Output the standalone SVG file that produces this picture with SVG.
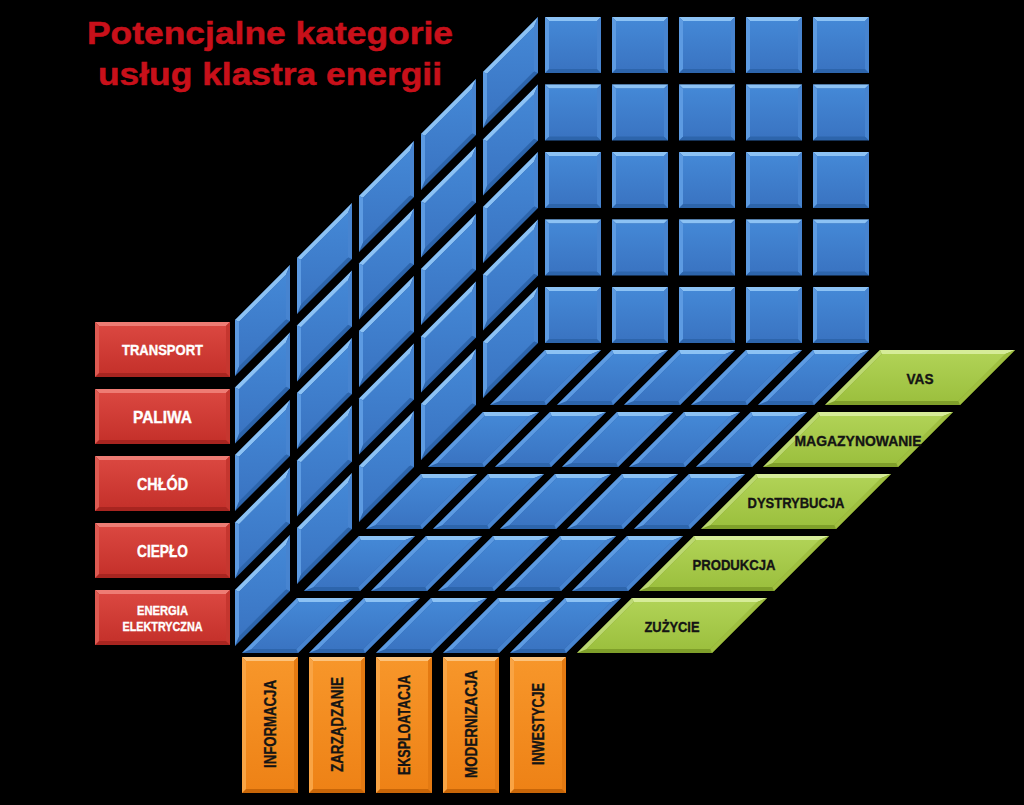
<svg xmlns="http://www.w3.org/2000/svg" xmlns:xlink="http://www.w3.org/1999/xlink" width="1024" height="805" viewBox="0 0 1024 805">
<style>
.t{font-family:"Liberation Sans",Arial,sans-serif;font-weight:bold;text-anchor:middle;stroke-width:0.35px}
.wt{fill:#ffffff;stroke:#ffffff}
.bk{fill:#141414;stroke:#141414}
.title{font-family:"Liberation Sans",Arial,sans-serif;font-weight:bold;fill:#c8101a;stroke:#c8101a;stroke-width:0.5px;font-size:31.5px;text-anchor:middle}
</style>
<defs>
<linearGradient id="gb" x1="0" y1="0" x2="0" y2="1"><stop offset="0" stop-color="#4488d6"/><stop offset="1" stop-color="#3a74c2"/></linearGradient>
<linearGradient id="gr" x1="0" y1="0" x2="0" y2="1"><stop offset="0" stop-color="#da4740"/><stop offset="1" stop-color="#c5312b"/></linearGradient>
<linearGradient id="go" x1="0" y1="0" x2="0" y2="1"><stop offset="0" stop-color="#f7962a"/><stop offset="1" stop-color="#ee8216"/></linearGradient>
<linearGradient id="gg" x1="0" y1="0" x2="0" y2="1"><stop offset="0" stop-color="#b0d256"/><stop offset="1" stop-color="#9cc03e"/></linearGradient>
<g id="sq">
<rect width="56" height="56" fill="#2d65ac"/>
<polygon points="0,0 56,0 52,4 4,4" fill="#8cc2f4"/>
<polygon points="0,0 4,4 4,52 0,56" fill="#5d9be2"/>
<polygon points="56,0 56,56 52,52 52,4" fill="#4784d0"/>
<rect x="4" y="4" width="48" height="48" fill="url(#gb)"/>
</g>
<g id="lw">
<polygon points="0,0 0,56 -55,111 -55,55" fill="#2d65ac"/>
<polygon points="0,0 -55,55 -51,56.66 -4,9.66" fill="#8cc2f4"/>
<polygon points="-55,55 -55,111 -51,101.34 -51,56.66" fill="#5d9be2"/>
<polygon points="0,0 -4,9.66 -4,54.34 0,56" fill="#4784d0"/>
<polygon points="-4,9.66 -4,54.34 -51,101.34 -51,56.66" fill="url(#gb)"/>
</g>
<g id="fl">
<polygon points="0,0 56,0 1,55 -55,55" fill="#2d65ac"/>
<polygon points="0,0 56,0 46.34,4 1.66,4" fill="#8cc2f4"/>
<polygon points="0,0 1.66,4 -45.34,51 -55,55" fill="#5d9be2"/>
<polygon points="56,0 46.34,4 -0.66,51 1,55" fill="#4784d0"/>
<polygon points="1.66,4 46.34,4 -0.66,51 -45.34,51" fill="url(#gb)"/>
</g>
<g id="gshape">
<polygon points="0,0 135,0 80,55 -55,55" fill="#7f9f2a"/>
<polygon points="0,0 135,0 125.34,4 1.66,4" fill="#d6ec98"/>
<polygon points="0,0 1.66,4 -45.34,51 -55,55" fill="#bcd872"/>
<polygon points="135,0 125.34,4 78.34,51 80,55" fill="#9fbf40"/>
<polygon points="1.66,4 125.34,4 78.34,51 -45.34,51" fill="url(#gg)"/>
</g>
<g id="rshape">
<rect width="135" height="55" fill="#a82520"/>
<polygon points="0,0 135,0 131,4 4,4" fill="#ee7c74"/>
<polygon points="0,0 4,4 4,51 0,55" fill="#de5a52"/>
<polygon points="135,0 135,55 131,51 131,4" fill="#c5362f"/>
<rect x="4" y="4" width="127" height="47" fill="url(#gr)"/>
</g>
<g id="oshape">
<rect width="56" height="136" fill="#c86608"/>
<polygon points="0,0 56,0 52,4 4,4" fill="#fcc27a"/>
<polygon points="0,0 4,4 4,132 0,136" fill="#f9a444"/>
<polygon points="56,0 56,136 52,132 52,4" fill="#e47a12"/>
<rect x="4" y="4" width="48" height="128" fill="url(#go)"/>
</g>
</defs>
<rect width="1024" height="805" fill="#000000"/>
<g id="title">
<text class="title" x="270" y="43.5" textLength="366" lengthAdjust="spacingAndGlyphs">Potencjalne kategorie</text>
<text class="title" x="270" y="85" textLength="344" lengthAdjust="spacingAndGlyphs">usług klastra energii</text>
</g>
<g id="back-wall">
<use href="#sq" x="545" y="17"/><use href="#sq" x="612" y="17"/><use href="#sq" x="679" y="17"/><use href="#sq" x="746" y="17"/><use href="#sq" x="813" y="17"/>
<use href="#sq" x="545" y="84.5"/><use href="#sq" x="612" y="84.5"/><use href="#sq" x="679" y="84.5"/><use href="#sq" x="746" y="84.5"/><use href="#sq" x="813" y="84.5"/>
<use href="#sq" x="545" y="152"/><use href="#sq" x="612" y="152"/><use href="#sq" x="679" y="152"/><use href="#sq" x="746" y="152"/><use href="#sq" x="813" y="152"/>
<use href="#sq" x="545" y="219.5"/><use href="#sq" x="612" y="219.5"/><use href="#sq" x="679" y="219.5"/><use href="#sq" x="746" y="219.5"/><use href="#sq" x="813" y="219.5"/>
<use href="#sq" x="545" y="287"/><use href="#sq" x="612" y="287"/><use href="#sq" x="679" y="287"/><use href="#sq" x="746" y="287"/><use href="#sq" x="813" y="287"/>
</g>
<g id="left-wall">
<use href="#lw" x="538" y="17"/><use href="#lw" x="538" y="84.5"/><use href="#lw" x="538" y="152"/><use href="#lw" x="538" y="219.5"/><use href="#lw" x="538" y="287"/>
<use href="#lw" x="476" y="79"/><use href="#lw" x="476" y="146.5"/><use href="#lw" x="476" y="214"/><use href="#lw" x="476" y="281.5"/><use href="#lw" x="476" y="349"/>
<use href="#lw" x="414" y="141"/><use href="#lw" x="414" y="208.5"/><use href="#lw" x="414" y="276"/><use href="#lw" x="414" y="343.5"/><use href="#lw" x="414" y="411"/>
<use href="#lw" x="352" y="203"/><use href="#lw" x="352" y="270.5"/><use href="#lw" x="352" y="338"/><use href="#lw" x="352" y="405.5"/><use href="#lw" x="352" y="473"/>
<use href="#lw" x="290" y="265"/><use href="#lw" x="290" y="332.5"/><use href="#lw" x="290" y="400"/><use href="#lw" x="290" y="467.5"/><use href="#lw" x="290" y="535"/>
</g>
<g id="floor">
<use href="#fl" x="545" y="350"/><use href="#fl" x="612" y="350"/><use href="#fl" x="679" y="350"/><use href="#fl" x="746" y="350"/><use href="#fl" x="813" y="350"/>
<use href="#fl" x="483" y="412"/><use href="#fl" x="550" y="412"/><use href="#fl" x="617" y="412"/><use href="#fl" x="684" y="412"/><use href="#fl" x="751" y="412"/>
<use href="#fl" x="421" y="474"/><use href="#fl" x="488" y="474"/><use href="#fl" x="555" y="474"/><use href="#fl" x="622" y="474"/><use href="#fl" x="689" y="474"/>
<use href="#fl" x="359" y="536"/><use href="#fl" x="426" y="536"/><use href="#fl" x="493" y="536"/><use href="#fl" x="560" y="536"/><use href="#fl" x="627" y="536"/>
<use href="#fl" x="297" y="598"/><use href="#fl" x="364" y="598"/><use href="#fl" x="431" y="598"/><use href="#fl" x="498" y="598"/><use href="#fl" x="565" y="598"/>
</g>
<g id="connectors"/>
<g id="red-transport"><use href="#rshape" x="95" y="322"/><text class="t wt" x="162.5" y="355" font-size="14.5" textLength="81" lengthAdjust="spacingAndGlyphs">TRANSPORT</text></g>
<g id="red-paliwa"><use href="#rshape" x="95" y="389"/><text class="t wt" x="162.5" y="422.5" font-size="17" textLength="59" lengthAdjust="spacingAndGlyphs">PALIWA</text></g>
<g id="red-chlod"><use href="#rshape" x="95" y="456"/><text class="t wt" x="162.5" y="490" font-size="17" textLength="51" lengthAdjust="spacingAndGlyphs">CHŁÓD</text></g>
<g id="red-cieplo"><use href="#rshape" x="95" y="523"/><text class="t wt" x="162.5" y="557" font-size="17" textLength="51" lengthAdjust="spacingAndGlyphs">CIEPŁO</text></g>
<g id="red-energia"><use href="#rshape" x="95" y="590"/><text class="t wt" x="162.5" y="614.5" font-size="13" textLength="51" lengthAdjust="spacingAndGlyphs">ENERGIA</text><text class="t wt" x="162.5" y="631" font-size="13" textLength="80" lengthAdjust="spacingAndGlyphs">ELEKTRYCZNA</text></g>
<g id="orange-informacja"><use href="#oshape" x="242" y="657"/><text class="t bk" transform="translate(270,724) rotate(-90)" y="5.8" font-size="16" textLength="88" lengthAdjust="spacingAndGlyphs">INFORMACJA</text></g>
<g id="orange-zarzadzanie"><use href="#oshape" x="309" y="657"/><text class="t bk" transform="translate(337,724.5) rotate(-90)" y="5.8" font-size="16" textLength="95" lengthAdjust="spacingAndGlyphs">ZARZĄDZANIE</text></g>
<g id="orange-eksploatacja"><use href="#oshape" x="376" y="657"/><text class="t bk" transform="translate(404,725) rotate(-90)" y="5.8" font-size="16" textLength="100" lengthAdjust="spacingAndGlyphs">EKSPLOATACJA</text></g>
<g id="orange-modernizacja"><use href="#oshape" x="443" y="657"/><text class="t bk" transform="translate(471,724) rotate(-90)" y="5.8" font-size="16" textLength="108" lengthAdjust="spacingAndGlyphs">MODERNIZACJA</text></g>
<g id="orange-inwestycje"><use href="#oshape" x="510" y="657"/><text class="t bk" transform="translate(538,724) rotate(-90)" y="5.8" font-size="16" textLength="82" lengthAdjust="spacingAndGlyphs">INWESTYCJE</text></g>
<g id="green-vas"><use href="#gshape" x="880" y="350"/><text class="t bk" x="920" y="383.5" font-size="15" textLength="27" lengthAdjust="spacingAndGlyphs">VAS</text></g>
<g id="green-magazynowanie"><use href="#gshape" x="818" y="412"/><text class="t bk" x="858" y="445.5" font-size="15" textLength="127" lengthAdjust="spacingAndGlyphs">MAGAZYNOWANIE</text></g>
<g id="green-dystrybucja"><use href="#gshape" x="756" y="474"/><text class="t bk" x="796" y="507.5" font-size="15" textLength="97" lengthAdjust="spacingAndGlyphs">DYSTRYBUCJA</text></g>
<g id="green-produkcja"><use href="#gshape" x="694" y="536"/><text class="t bk" x="734" y="569.5" font-size="15" textLength="83" lengthAdjust="spacingAndGlyphs">PRODUKCJA</text></g>
<g id="green-zuzycie"><use href="#gshape" x="632" y="598"/><text class="t bk" x="672" y="631.5" font-size="15" textLength="55" lengthAdjust="spacingAndGlyphs">ZUŻYCIE</text></g>
</svg>
